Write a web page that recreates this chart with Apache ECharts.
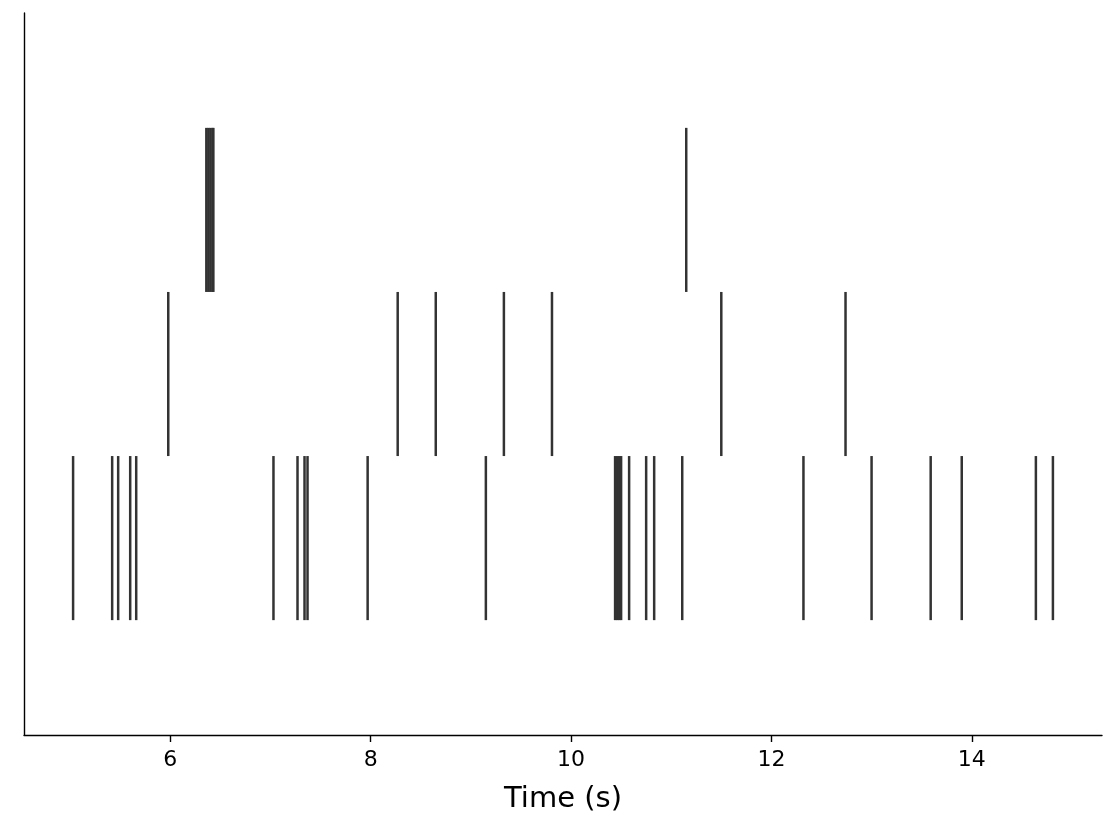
<!DOCTYPE html>
<html>
<head>
<meta charset="utf-8">
<script src="https://cdn.jsdelivr.net/npm/echarts@6/dist/echarts.min.js"></script>
<style>html,body{margin:0;padding:0;background:#fff;}#chart{width:1116px;height:827px;}</style>
</head>
<body>
<div id="chart"></div>
<script>
// Spike times (s) for each row (line offset 0, 1, 2)
const row0 = [5.03, 5.42, 5.48, 5.60, 5.66, 7.03, 7.27, 7.34, 7.37, 7.97, 9.15,
  10.44, 10.46, 10.48, 10.50, 10.58, 10.75, 10.83, 11.11, 12.32, 13.00, 13.59, 13.90, 14.64, 14.81];
const row1 = [5.98, 8.27, 8.65, 9.33, 9.81, 11.50, 12.74];
const row2 = [6.36, 6.38, 6.40, 6.42, 6.43, 11.15];
const rows = [row0, row1, row2];
const xTicks = [6, 8, 10, 12, 14];
const xLabel = 'Time (s)';

const data = [];
rows.forEach((r, i) => r.forEach(t => data.push([t, i])));

const chart = echarts.init(document.getElementById('chart'));
chart.setOption({
  animation: false,
  grid: {left: 24, right: 14, top: 13, bottom: 92},
  xAxis: {
    type: 'value', min: 4.54, max: 15.30,
    name: xLabel, nameLocation: 'middle', nameGap: 50,
    nameTextStyle: {fontFamily: 'DejaVu Sans', fontSize: 29, color: '#000'},
    axisLine: {show: true, onZero: false, lineStyle: {color: '#000', width: 1.4}},
    axisTick: {show: true, customValues: xTicks, length: 7, lineStyle: {color: '#000', width: 1.4}},
    axisLabel: {customValues: xTicks, fontFamily: 'DejaVu Sans', fontSize: 22, color: '#000', margin: 14},
    splitLine: {show: false}
  },
  yAxis: {
    type: 'value', min: -1.2, max: 3.2,
    axisLine: {show: true, onZero: false, lineStyle: {color: '#000', width: 1.4}},
    axisTick: {show: false}, axisLabel: {show: false}, splitLine: {show: false}
  },
  series: [{
    type: 'custom',
    data: data,
    renderItem: function (params, api) {
      const t = api.value(0), o = api.value(1);
      const p1 = api.coord([t, o - 0.5]);
      const p2 = api.coord([t, o + 0.5]);
      return {type: 'line', shape: {x1: p1[0], y1: p1[1], x2: p2[0], y2: p2[1]},
        style: {stroke: '#333333', lineWidth: 2.5, lineCap: 'butt'}};
    }
  }]
});
</script>
</body>
</html>
